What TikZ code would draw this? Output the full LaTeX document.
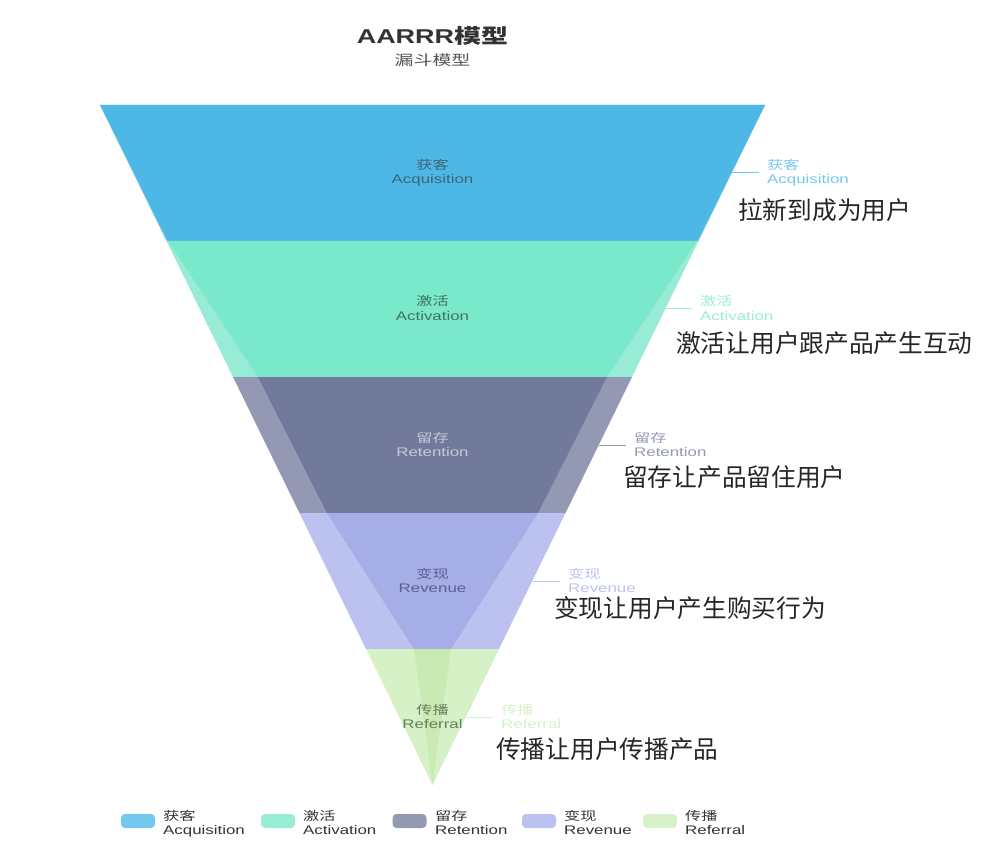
\documentclass[tikz,border=0pt]{standalone}
\usepackage{fontspec}
\usepackage{graphicx}
\setmainfont{Liberation Sans}
\newfontfamily\cjk{Noto Sans CJK SC}
\newcommand\hs[1]{\scalebox{1.35}[1]{#1}}
\newcommand\twol[2]{\rule{0pt}{11pt}\hs{\cjk\fontsize{12}{14}\selectfont #1}\\\rule[-3pt]{0pt}{3pt}\hs{#2}}
\definecolor{o1}{HTML}{6DC4EA}\definecolor{i1}{HTML}{4DB7E5}
\definecolor{o2}{HTML}{98ECD5}\definecolor{i2}{HTML}{7AE9C9}
\definecolor{o3}{HTML}{9399B3}\definecolor{i3}{HTML}{717A9A}
\definecolor{o4}{HTML}{BCC2F0}\definecolor{i4}{HTML}{A5AEE6}
\definecolor{o5}{HTML}{D5F1C5}\definecolor{i5}{HTML}{C9EBB3}
\definecolor{c1}{HTML}{73C8EE}\definecolor{c2}{HTML}{97EDD5}
\definecolor{c3}{HTML}{9299B2}\definecolor{c4}{HTML}{BCC2EF}
\definecolor{c5}{HTML}{D6F2C6}
\definecolor{t1}{HTML}{3E6479}\definecolor{t2}{HTML}{3E7264}
\definecolor{t3}{HTML}{C5C9D7}\definecolor{t4}{HTML}{5A6090}
\definecolor{t5}{HTML}{667F5A}
\definecolor{descc}{HTML}{262626}
\definecolor{legc}{HTML}{333333}
\begin{document}
\begin{tikzpicture}[x=1pt,y=-1pt,
  lbl/.style={inner xsep=8pt, inner ysep=0pt, anchor=west, align=left, font=\fontsize{12.5}{14}\selectfont},
  inl/.style={inner sep=0pt, align=center, font=\fontsize{12.5}{14}\selectfont},
  desc/.style={inner sep=0pt, anchor=west, font=\cjk\fontsize{24.7}{28}\selectfont, text=descc},
  sw/.style={rounded corners=4pt, minimum width=34pt, minimum height=14pt, inner sep=0pt},
  leg/.style={inner sep=0pt, anchor=west, align=left, font=\fontsize{12.5}{14}\selectfont, text=legc},
  lline/.style={line width=1pt}]
\useasboundingbox (0,0) rectangle (1006,866);
% outer funnel
\fill[o1] (100,105) -- (765,105) -- (698.5,241) -- (166.5,241) -- cycle;
\fill[o2] (166.5,241) -- (698.5,241) -- (632,377) -- (233,377) -- cycle;
\fill[o3] (233,377) -- (632,377) -- (565.5,513) -- (299.5,513) -- cycle;
\fill[o4] (299.5,513) -- (565.5,513) -- (499,649) -- (366,649) -- cycle;
\fill[o5] (366,649) -- (499,649) -- (432.5,785) -- cycle;
% inner funnel
\fill[i1] (100,105) -- (765,105) -- (697,241) -- (168,241) -- cycle;
\fill[i2] (168,241) -- (697,241) -- (607,377) -- (258,377) -- cycle;
\fill[i3] (258,377) -- (607,377) -- (538,513) -- (327,513) -- cycle;
\fill[i4] (327,513) -- (538,513) -- (451,649) -- (414,649) -- cycle;
\fill[i5] (414,649) -- (451,649) -- (432.5,785) -- cycle;
% title
\node[inner sep=0pt, text=legc, font=\fontsize{20}{22}\selectfont\bfseries] (title) at (432.5,35.5) {\hs{AARRR{\cjk\bfseries 模型}}};
\node[inner sep=0pt, text=legc!85, font=\cjk\fontsize{14}{16}\selectfont] (sub) at (432.5,60) {\hs{漏斗模型}};
% inside labels
\node[inl, text=t1] (in1) at (432.5,173) {\twol{获客}{Acquisition}};
\node[inl, text=t2] (in2) at (432.5,309) {\twol{激活}{Activation}};
\node[inl, text=t3] (in3) at (432.5,445) {\twol{留存}{Retention}};
\node[inl, text=t4] (in4) at (432.5,581) {\twol{变现}{Revenue}};
\node[inl, text=t5] (in5) at (432.5,717) {\twol{传播}{Referral}};
% edge points
\coordinate (e1) at (731.5,173);
\coordinate (e2) at (665.5,309);
\coordinate (e3) at (599,445);
\coordinate (e4) at (532.5,581);
\coordinate (e5) at (466,717);
% outer labels
\node[lbl, text=c1] (l1) at (759,173) {\twol{获客}{Acquisition}};
\node[lbl, text=c2] (l2) at (692,309) {\twol{激活}{Activation}};
\node[lbl, text=c3] (l3) at (626,445) {\twol{留存}{Retention}};
\node[lbl, text=c4] (l4) at (560,581) {\twol{变现}{Revenue}};
\node[lbl, text=c5] (l5) at (493,717) {\twol{传播}{Referral}};
\draw[lline, c1] (e1) -- (l1.west);
\draw[lline, c2] (e2) -- (l2.west);
\draw[lline, c3] (e3) -- (l3.west);
\draw[lline, c4] (e4) -- (l4.west);
\draw[lline, c5] (e5) -- (l5.west);
% descriptions
\node[desc] (d1) at (738,210) {拉新到成为用户};
\node[desc] (d2) at (676,343) {激活让用户跟产品产生互动};
\node[desc] (d3) at (623,477.5) {留存让产品留住用户};
\node[desc] (d4) at (554,608.5) {变现让用户产生购买行为};
\node[desc] (d5) at (496,749) {传播让用户传播产品};
% legend
\node[sw, fill=c1] (s1) at (138,821) {};
\node[sw, fill=c2] (s2) at (278,821) {};
\node[sw, fill=c3] (s3) at (409.5,821) {};
\node[sw, fill=c4] (s4) at (539,821) {};
\node[sw, fill=c5] (s5) at (660,821) {};
\node[leg] (g1) at (163,823) {\twol{获客}{Acquisition}};
\node[leg] (g2) at (303,823) {\twol{激活}{Activation}};
\node[leg] (g3) at (435,823) {\twol{留存}{Retention}};
\node[leg] (g4) at (564,823) {\twol{变现}{Revenue}};
\node[leg] (g5) at (685,823) {\twol{传播}{Referral}};
\end{tikzpicture}
\end{document}
